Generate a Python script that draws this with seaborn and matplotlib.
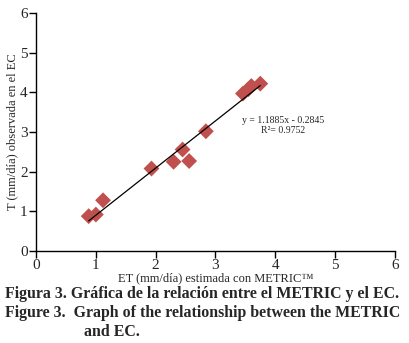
import matplotlib
matplotlib.use("Agg")
import matplotlib.pyplot as plt
import seaborn as sns
import numpy as np
import pandas as pd

# valores
et_metric = [0.88, 1.00, 1.12, 1.93, 2.30, 2.45, 2.56, 2.84, 3.46, 3.55, 3.60, 3.75]
et_ec = [0.88, 0.92, 1.28, 2.08, 2.25, 2.56, 2.27, 3.02, 3.97, 4.08, 4.16, 4.22]
slope = 1.1885
intercept = -0.2845
r2 = 0.9752
ticks = [0, 1, 2, 3, 4, 5, 6]

df = pd.DataFrame({"metric": et_metric, "ec": et_ec})

sns.set_style("white")
plt.rcParams["font.family"] = ["Liberation Serif", "DejaVu Serif"]

fig = plt.figure(figsize=(4.10, 3.43), dpi=100)
ax = fig.add_axes([0.088, 0.268, 0.875, 0.694])

sns.scatterplot(data=df, x="metric", y="ec", marker="D", s=65,
                color="#C0504D", edgecolor="none", ax=ax, zorder=2)

xl = np.array([min(et_metric), max(et_metric)])
ax.plot(xl, slope * xl + intercept, color="black", lw=0.9, zorder=3)

ax.text(4.13, 3.3, "y = {:.4f}x - {:.4f}".format(slope, -intercept),
        ha="center", va="center", fontsize=7)
ax.text(4.13, 3.04, "R²= {:.4f}".format(r2), ha="center", va="center", fontsize=7)

ax.set_xlim(0, 6)
ax.set_ylim(0, 6)
ax.set_xticks(ticks)
ax.set_yticks(ticks)
ax.tick_params(axis="both", direction="out", length=5, width=1, color="black",
               labelsize=11, pad=1, bottom=True, left=True)
for s in ["top", "right"]:
    ax.spines[s].set_visible(False)
for s in ["left", "bottom"]:
    ax.spines[s].set_color("black")
    ax.spines[s].set_linewidth(1)

ax.set_xlabel("ET (mm/día) estimada con METRIC™", fontsize=9, labelpad=0)
ax.set_ylabel("T (mm/día) observada en el EC", fontsize=9, labelpad=1)

fig.text(0.012, 0.143, "Figura 3. Gráfica de la relación entre el METRIC y el EC.",
         fontsize=11.4, fontweight="bold", va="center")
fig.text(0.012, 0.088, "Figure 3.  Graph of the relationship between the METRIC",
         fontsize=11.4, fontweight="bold", va="center")
fig.text(0.205, 0.031, "and EC.", fontsize=11.4, fontweight="bold", va="center")

fig.savefig("out.png", dpi=100)
